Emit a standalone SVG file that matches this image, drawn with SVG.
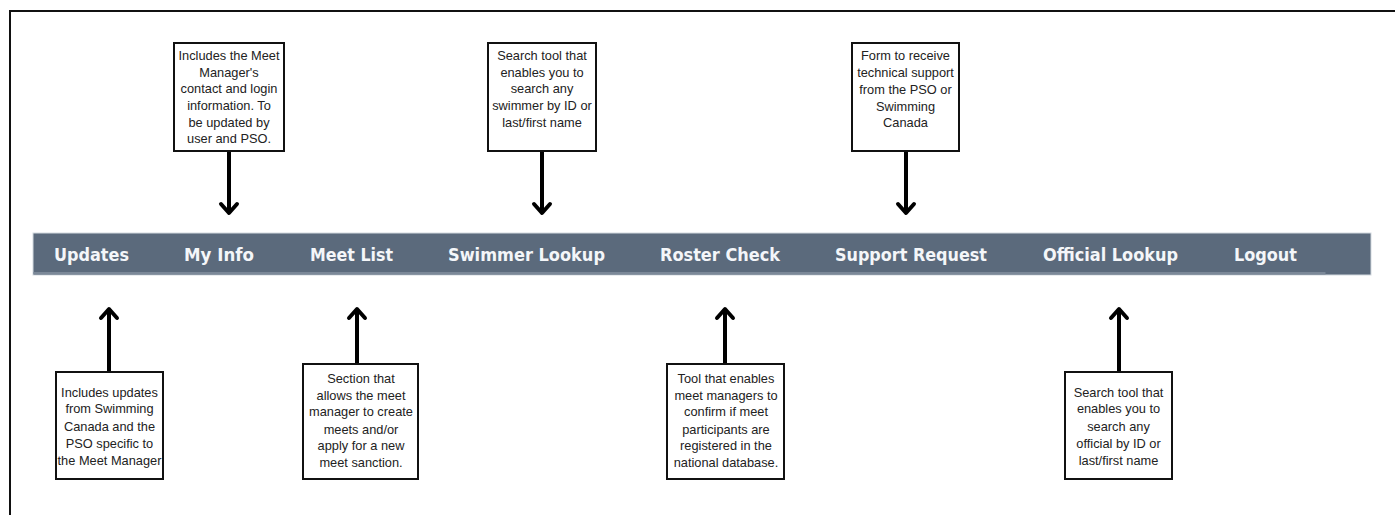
<svg xmlns="http://www.w3.org/2000/svg" width="1395" height="515" viewBox="0 0 1395 515">
<style>
.box{fill:#fff;stroke:#111;stroke-width:2}
.bt{font-family:"Liberation Sans",Arial,sans-serif;font-size:12.8px;fill:#222;text-anchor:middle}
.nav{font-family:"DejaVu Sans",Verdana,sans-serif;font-weight:bold;font-size:18.5px;fill:#f4f6f9}
.conn{stroke:#000;stroke-width:4;fill:none;marker-end:url(#ah)}
</style>
<defs>
<marker id="ah" markerUnits="userSpaceOnUse" markerWidth="24" markerHeight="24" refX="12" refY="12" orient="auto" viewBox="0 0 24 24">
<path d="M3,4 L12,12 L3,20" fill="none" stroke="#000" stroke-width="4" stroke-linecap="round" stroke-linejoin="round"/>
</marker>
</defs>
<rect width="1395" height="515" fill="#fff"/>
<path d="M10,520 V11 H1400" fill="none" stroke="#111" stroke-width="2"/>

<g id="navbar">
<rect x="33" y="233" width="1338" height="42" fill="#5b6a7c" stroke="#d3d9df" stroke-width="1"/>
<rect x="33.5" y="272" width="1292" height="2.5" fill="#7b8898"/>
<text class="nav" x="54" y="261" textLength="75" lengthAdjust="spacingAndGlyphs">Updates</text>
<text class="nav" x="184" y="261" textLength="70" lengthAdjust="spacingAndGlyphs">My Info</text>
<text class="nav" x="310" y="261" textLength="83" lengthAdjust="spacingAndGlyphs">Meet List</text>
<text class="nav" x="448" y="261" textLength="157" lengthAdjust="spacingAndGlyphs">Swimmer Lookup</text>
<text class="nav" x="660" y="261" textLength="120" lengthAdjust="spacingAndGlyphs">Roster Check</text>
<text class="nav" x="835" y="261" textLength="152" lengthAdjust="spacingAndGlyphs">Support Request</text>
<text class="nav" x="1043" y="261" textLength="135" lengthAdjust="spacingAndGlyphs">Official Lookup</text>
<text class="nav" x="1234" y="261" textLength="63" lengthAdjust="spacingAndGlyphs">Logout</text>
</g>

<g id="connectors">
<path class="conn" d="M229,151 V213"/>
<path class="conn" d="M542,151 V213"/>
<path class="conn" d="M906,151 V213"/>
<path class="conn" d="M109,372 V309"/>
<path class="conn" d="M357,364 V309"/>
<path class="conn" d="M725,364 V309"/>
<path class="conn" d="M1119,372 V309"/>
</g>

<g id="note-myinfo">
<rect class="box" x="174" y="43" width="110" height="108"/>
<text class="bt" x="229" y="60">Includes the Meet</text>
<text class="bt" x="229" y="77">Manager's</text>
<text class="bt" x="229" y="93">contact and login</text>
<text class="bt" x="229" y="110">information. To</text>
<text class="bt" x="229" y="127">be updated by</text>
<text class="bt" x="229" y="143">user and PSO.</text>
</g>

<g id="note-swimmer">
<rect class="box" x="488" y="43" width="108" height="108"/>
<text class="bt" x="542" y="60">Search tool that</text>
<text class="bt" x="542" y="77">enables you to</text>
<text class="bt" x="542" y="93">search any</text>
<text class="bt" x="542" y="110">swimmer by ID or</text>
<text class="bt" x="542" y="127">last/first name</text>
</g>

<g id="note-support">
<rect class="box" x="852" y="43" width="107" height="108"/>
<text class="bt" x="905.5" y="60">Form to receive</text>
<text class="bt" x="905.5" y="77">technical support</text>
<text class="bt" x="905.5" y="94">from the PSO or</text>
<text class="bt" x="905.5" y="111">Swimming</text>
<text class="bt" x="905.5" y="127">Canada</text>
</g>

<g id="note-updates">
<rect class="box" x="56" y="372" width="107" height="107"/>
<text class="bt" x="109.5" y="397">Includes updates</text>
<text class="bt" x="109.5" y="413">from Swimming</text>
<text class="bt" x="109.5" y="431">Canada and the</text>
<text class="bt" x="109.5" y="448">PSO specific to</text>
<text class="bt" x="109.5" y="465">the Meet Manager</text>
</g>

<g id="note-meetlist">
<rect class="box" x="303" y="364" width="115" height="115"/>
<text class="bt" x="361" y="383">Section that</text>
<text class="bt" x="361" y="400">allows the meet</text>
<text class="bt" x="361" y="416">manager to create</text>
<text class="bt" x="361" y="434">meets and/or</text>
<text class="bt" x="361" y="450">apply for a new</text>
<text class="bt" x="361" y="467">meet sanction.</text>
</g>

<g id="note-roster">
<rect class="box" x="667" y="364" width="117" height="115"/>
<text class="bt" x="726" y="383">Tool that enables</text>
<text class="bt" x="726" y="400">meet managers to</text>
<text class="bt" x="726" y="416">confirm if meet</text>
<text class="bt" x="726" y="434">participants are</text>
<text class="bt" x="726" y="450">registered in the</text>
<text class="bt" x="726" y="467">national database.</text>
</g>

<g id="note-official">
<rect class="box" x="1065" y="372" width="107" height="107"/>
<text class="bt" x="1118.5" y="397">Search tool that</text>
<text class="bt" x="1118.5" y="413">enables you to</text>
<text class="bt" x="1118.5" y="431">search any</text>
<text class="bt" x="1118.5" y="448">official by ID or</text>
<text class="bt" x="1118.5" y="465">last/first name</text>
</g>
</svg>
